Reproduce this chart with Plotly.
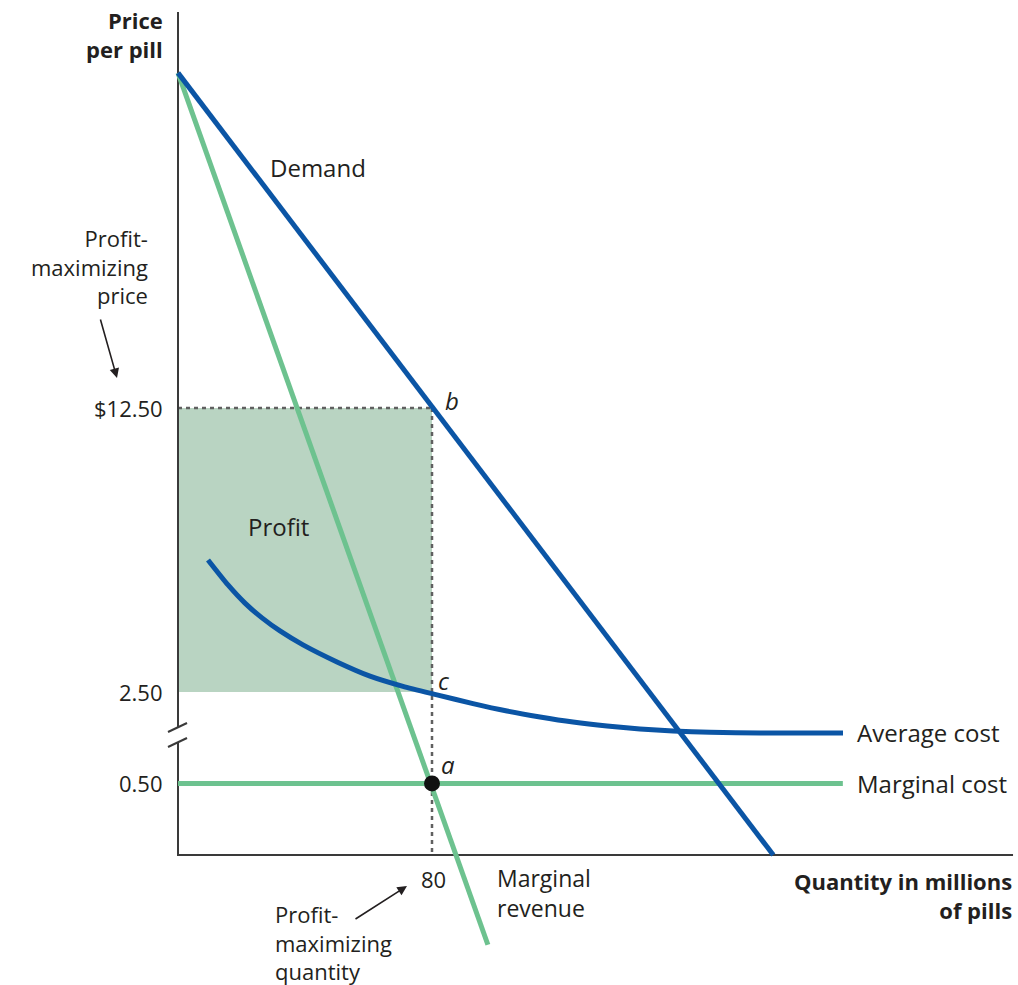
import plotly.graph_objects as go

# ---------------- data (quantity in millions, price in display units) ----------------
# y values below 2.50 are in the broken part of the axis (display units)
demand_q = [0, 187.5]
demand_p = [24.3, -3.24]

mr_q = [0, 97.6]
mr_p = [24.3, -6.4]

ac_q = [9.45, 15.75, 21.10, 26.46, 32.13, 39.37, 50.08, 60.47, 70.87, 81.57,
        92.91, 103.62, 114.02, 124.41, 135.12, 145.51, 155.91, 167.56, 183.31, 209.45]
ac_p = [7.15, 6.27, 5.63, 5.11, 4.65, 4.16, 3.56, 3.06, 2.70, 2.40,
        2.09, 1.83, 1.62, 1.44, 1.30, 1.20, 1.13, 1.08, 1.06, 1.06]

mc_q = [0, 209.4]
mc_p = [-0.72, -0.72]          # displayed position of $0.50 on the broken axis

profit_q = [0, 80, 80, 0, 0]
profit_p = [2.5, 2.5, 12.5, 12.5, 2.5]

opt_q = 80
opt_price = 12.5
opt_ac = 2.5
opt_mc_disp = -0.72

tick_vals = [12.5, 2.5, -0.72]
tick_text = ["$12.50", "2.50", "0.50"]

axis_top = 26.44
axis_bottom = -3.24
axis_right = 263.0

# ---------------- styling ----------------
W, H = 1018, 985
BLUE = "#0b55a5"
GREEN = "#6dc28f"
FILL = "#b9d4c2"
TXT = "#231f20"
FONT = "Open Sans"

X0, XS = 178.0, 3.175   # pixel of q=0, px per unit
Y0, YS = 692.0, 28.4    # pixel of price 2.5, px per unit
xr = [(0 - X0) / XS, (W - X0) / XS]
yr = [2.5 - (H - Y0) / YS, 2.5 + Y0 / YS]

def px(q):
    return X0 + q * XS

def py(v):
    return Y0 - (v - 2.5) * YS

def P(x, y):
    return x / W, 1 - y / H

fig = go.Figure()

# profit rectangle
fig.add_trace(go.Scatter(x=profit_q, y=profit_p, fill="toself", fillcolor=FILL,
                         line=dict(width=0), mode="lines", hoverinfo="skip"))

# dashed guides
fig.add_trace(go.Scatter(x=[0, opt_q], y=[opt_price, opt_price], mode="lines",
                         line=dict(color="#606060", width=2.5, dash="4px,4px")))
fig.add_trace(go.Scatter(x=[opt_q, opt_q], y=[opt_price, axis_bottom], mode="lines",
                         line=dict(color="#606060", width=2.5, dash="4px,4px")))

# axes (with break on y)
brk_hi = 2.5 - (727 - Y0) / YS
brk_lo = 2.5 - (743 - Y0) / YS
fig.add_trace(go.Scatter(x=[0, 0], y=[axis_top, brk_hi], mode="lines",
                         line=dict(color="#3a3a3a", width=2)))
fig.add_trace(go.Scatter(x=[0, 0, axis_right], y=[brk_lo, axis_bottom, axis_bottom], mode="lines",
                         line=dict(color="#3a3a3a", width=2)))
for off in (0, 15):
    fig.add_trace(go.Scatter(
        x=[(168 - X0) / XS, (187 - X0) / XS],
        y=[2.5 - (732 + off - Y0) / YS, 2.5 - (723 + off - Y0) / YS],
        mode="lines", line=dict(color="#3a3a3a", width=2)))

# marginal cost
fig.add_trace(go.Scatter(x=mc_q, y=mc_p, mode="lines", line=dict(color=GREEN, width=5)))
# marginal revenue
fig.add_trace(go.Scatter(x=mr_q, y=mr_p, mode="lines", line=dict(color=GREEN, width=5)))
# demand
fig.add_trace(go.Scatter(x=demand_q, y=demand_p, mode="lines", line=dict(color=BLUE, width=5)))
# average cost
fig.add_trace(go.Scatter(x=ac_q, y=ac_p, mode="lines",
                         line=dict(color=BLUE, width=5, shape="spline", smoothing=0.6)))
# point a
fig.add_trace(go.Scatter(x=[opt_q], y=[opt_mc_disp], mode="markers",
                         marker=dict(color="#111111", size=16)))

ann = []

def text(x, y, s, anchor="left", size=24, bold=False, italic=False):
    xx, yy = P(x, y)
    if bold:
        s = "<b>" + s + "</b>"
    if italic:
        s = "<i>" + s + "</i>"
    ann.append(dict(x=xx, y=yy, xref="paper", yref="paper", text=s, showarrow=False,
                    xanchor=anchor, yanchor="middle", align=anchor, borderpad=0,
                    font=dict(family=FONT, size=size, color=TXT)))

# tick labels
for v, t in zip(tick_vals, tick_text):
    text(164, py(v), t, anchor="right", size=22)
text(px(opt_q) + 1, 879, "80", anchor="center", size=22)

# axis titles
text(164, 34, "Price<br>per pill", anchor="right", size=22, bold=True)
text(1013, 895, "Quantity in millions<br>of pills", anchor="right", size=22, bold=True)

# curve labels
text(318, 168, "Demand", anchor="center")
text(278, 526, "Profit", anchor="center")
text(856, 732, "Average cost")
text(856, 783, "Marginal cost")
text(496, 893, "Marginal<br>revenue", size=23)
text(452, 400, "b", anchor="center", italic=True)
text(444, 680, "c", anchor="center", italic=True)
text(448, 764, "a", anchor="center", italic=True)

# annotation texts
text(149, 267, "Profit-<br>maximizing<br>price", anchor="right", size=22)
text(274, 942, "Profit-<br>maximizing<br>quantity", size=22)

# arrows
for hx, hy, tx, ty in [(117, 378, 100, 318), (407, 886, 354, 920)]:
    xx, yy = P(hx, hy)
    ann.append(dict(x=xx, y=yy, xref="paper", yref="paper", text="", showarrow=True,
                    ax=tx - hx, ay=ty - hy, arrowhead=2, arrowsize=1.2, arrowwidth=1.6,
                    arrowcolor=TXT, standoff=0))

fig.update_layout(
    width=W, height=H, margin=dict(l=0, r=0, t=0, b=0),
    paper_bgcolor="white", plot_bgcolor="white", showlegend=False,
    xaxis=dict(range=xr, visible=False, fixedrange=True),
    yaxis=dict(range=yr, visible=False, fixedrange=True),
    annotations=ann,
)

fig.write_html("out.html", config={"displayModeBar": False},
               post_script="document.body.style.margin='0';document.body.style.overflow='hidden';")
